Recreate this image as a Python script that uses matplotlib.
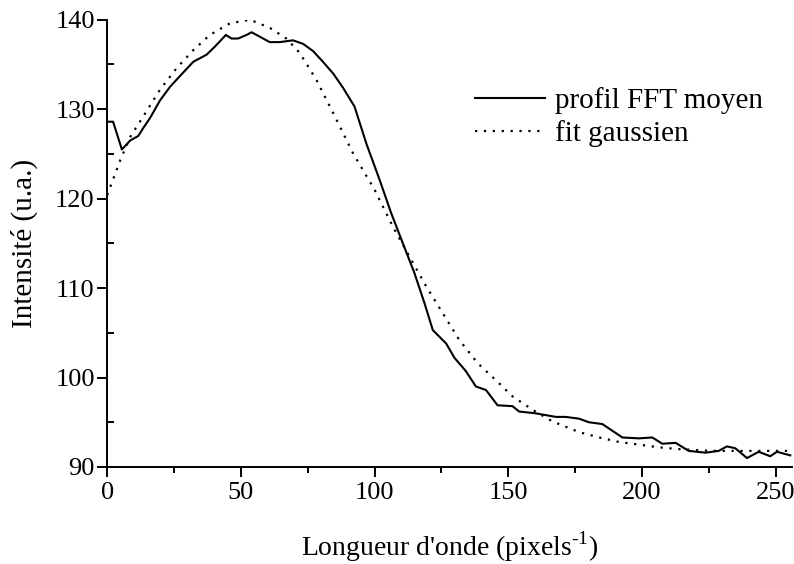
import matplotlib
matplotlib.use("Agg")
import matplotlib.pyplot as plt
from matplotlib.ticker import MultipleLocator

plt.rcParams['font.family'] = ['Liberation Serif', 'DejaVu Serif']
plt.rcParams['mathtext.fontset'] = 'custom'
plt.rcParams['mathtext.rm'] = 'Liberation Serif'

# profil FFT moyen
profil_x = [0, 2.2, 5.5, 8.6, 11.6, 13.5, 16, 19.8, 23.5, 27.2, 32.2, 37.2, 40.3,
            44.4, 46.5, 49, 52.1, 54, 57.1, 60.8, 64.6, 69.5, 73.3, 77, 80.7,
            84.5, 88.2, 92.5, 97, 101.9, 106.2, 110.6, 114.9, 118.7, 121.8,
            126.8, 129.9, 134.2, 137.9, 141.7, 146.0, 151.6, 154.1, 160.3,
            167.8, 171.5, 176.5, 180.2, 185.2, 187.7, 192.7, 198.9, 203.9,
            207.6, 212.6, 217.5, 223.8, 228.7, 231.8, 234.9, 239.3, 243.7,
            248.0, 250.5, 255.5]
profil_y = [128.6, 128.6, 125.5, 126.5, 127.0, 127.9, 129.0, 131.0, 132.5, 133.7,
            135.3, 136.1, 137.0, 138.3, 137.9, 137.9, 138.3, 138.6, 138.1,
            137.5, 137.5, 137.7, 137.3, 136.5, 135.3, 134.0, 132.4, 130.3,
            126.1, 122.1, 118.4, 115.0, 111.7, 108.3, 105.3, 103.8, 102.2,
            100.7, 99.0, 98.6, 96.9, 96.8, 96.2, 96.0, 95.6, 95.6, 95.4, 95.0,
            94.8, 94.3, 93.3, 93.2, 93.3, 92.6, 92.7, 91.8, 91.6, 91.8, 92.3,
            92.1, 91.0, 91.7, 91.2, 91.7, 91.3]

# fit gaussien
fit_x = [0, 4.9, 8.6, 13.5, 19.8, 26, 32.2, 38.4, 45.9, 53.4, 60.8, 67.0, 72,
         78.2, 84.5, 91.9, 100, 106.8, 113.1, 119.3, 125.5, 131.7, 138.6,
         145.4, 151.6, 159.1, 166.5, 176.5, 184, 191.4, 198.9, 206.3, 213.8,
         226.2, 238.7, 256]
fit_y = [120.4, 124.3, 126.9, 129.2, 132.2, 134.6, 136.6, 138.3, 139.6, 140.0,
         139.1, 137.9, 136.3, 133.3, 129.6, 125.1, 121.0, 116.9, 113.5, 110.2,
         107.2, 104.2, 101.6, 99.7, 97.9, 96.4, 95.1, 93.9, 93.3, 92.8, 92.5,
         92.2, 92.0, 91.8, 91.8, 91.8]

fig = plt.figure(figsize=(7.94, 5.64), dpi=100)
ax = fig.add_axes([0.135, 0.172, 0.862, 0.793])

ax.plot(profil_x, profil_y, color='black', lw=1.5, label='profil FFT moyen')
ax.plot(fit_x, fit_y, color='black', lw=1.6, linestyle=(0, (1, 3)), label='fit gaussien')

ax.set_xlim(0, 256)
ax.set_ylim(90, 140)
ax.xaxis.set_major_locator(MultipleLocator(50))
ax.xaxis.set_minor_locator(MultipleLocator(25))
ax.yaxis.set_major_locator(MultipleLocator(10))
ax.yaxis.set_minor_locator(MultipleLocator(5))

for s in ['top', 'right']:
    ax.spines[s].set_visible(False)
for s in ['left', 'bottom']:
    ax.spines[s].set_linewidth(1.4)

ax.tick_params(axis='x', which='major', direction='out', length=7, width=1.4, labelsize=19, pad=4)
ax.tick_params(axis='x', which='minor', direction='out', length=4, width=1.4)
ax.tick_params(axis='y', which='major', direction='out', length=7, width=1.4, labelsize=19, pad=2)
ax.tick_params(axis='y', which='minor', direction='in', length=5, width=1.4)

ax.set_xlabel(r"Longueur d'onde (pixels$^{\text{-1}}$)", fontsize=20, labelpad=18)
ax.set_ylabel("Intensité (u.a.)", fontsize=21, labelpad=12)

ax.legend(loc='upper left', bbox_to_anchor=(0.52, 0.875), frameon=False, fontsize=21,
          handlelength=2.4, handletextpad=0.35, labelspacing=0.2, borderaxespad=0)

fig.savefig('out.png', dpi=100)
